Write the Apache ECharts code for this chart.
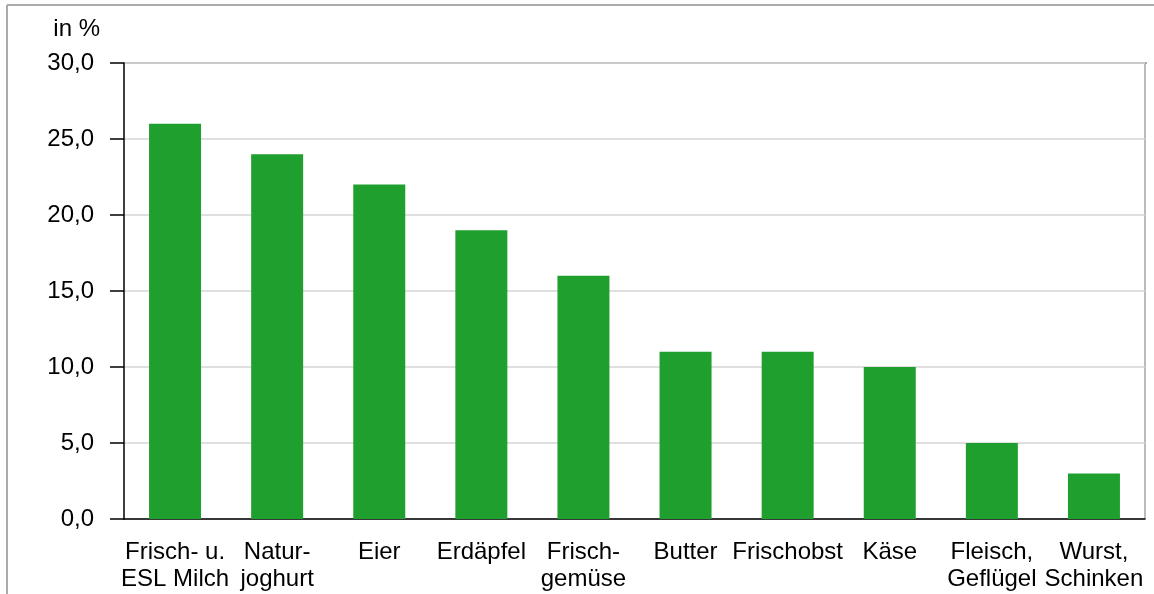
<!DOCTYPE html>
<html><head><meta charset="utf-8">
<script src="https://cdn.jsdelivr.net/npm/echarts@6/dist/echarts.min.js"></script>
<style>html,body{margin:0;padding:0;background:#fff}#c{width:1154px;height:594px}</style>
</head><body><div id="c"></div>
<script>
const categories = ['Frisch- u.\nESL Milch','Natur-\njoghurt','Eier','Erdäpfel','Frisch-\ngemüse','Butter','Frischobst','Käse','Fleisch,\nGeflügel','Wurst,\nSchinken'];
const values = [26, 24, 22, 19, 16, 11, 11, 10, 5, 3];
const yTicks = {min: 0, max: 30, interval: 5};
const unitLabel = 'in %';

const chart = echarts.init(document.getElementById('c'));
const font = 'Liberation Sans, Arial, sans-serif';
chart.setOption({
  animation: false,
  grid: {left: 124, right: 9, top: 63, bottom: 75},
  graphic: [
    {type: 'line', shape: {x1: 7, y1: 5, x2: 1154, y2: 5}, style: {stroke: '#aaaaaa', lineWidth: 2}},
    {type: 'line', shape: {x1: 7, y1: 5, x2: 7, y2: 594}, style: {stroke: '#aaaaaa', lineWidth: 2}},
    {type: 'line', shape: {x1: 1145, y1: 63, x2: 1145, y2: 519}, style: {stroke: '#bbbbbb', lineWidth: 2}},
    {type: 'line', shape: {x1: 124, y1: 63, x2: 1147, y2: 63}, style: {stroke: '#aaaaaa', lineWidth: 2}}
  ],
  xAxis: {
    type: 'category', data: categories,
    axisLine: {lineStyle: {color: '#000', width: 1.5}},
    axisTick: {length: 14, lineStyle: {color: '#000', width: 1.5}},
    axisLabel: {color: '#000', fontFamily: font, fontSize: 24, lineHeight: 27, margin: 20, interval: 0}
  },
  yAxis: {
    type: 'value', min: yTicks.min, max: yTicks.max, interval: yTicks.interval,
    name: unitLabel, nameLocation: 'end', nameGap: 22,
    nameTextStyle: {color: '#000', fontFamily: font, fontSize: 24, align: 'right', padding: [0, 24, 0, 0]},
    axisLine: {show: true, lineStyle: {color: '#000', width: 1.5}},
    axisTick: {show: true, length: 14, lineStyle: {color: '#000', width: 1.5}},
    axisLabel: {color: '#000', fontFamily: font, fontSize: 24, margin: 30,
      formatter: v => v.toFixed(1).replace('.', ',')},
    splitLine: {lineStyle: {color: '#d4d4d4', width: 1.5}}
  },
  series: [{
    type: 'bar', data: values, barWidth: 52,
    itemStyle: {color: '#1f9f2d'}
  }]
});
</script></body></html>
